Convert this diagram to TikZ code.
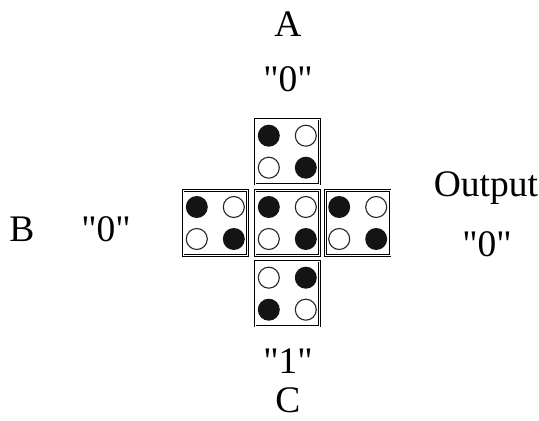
\documentclass[tikz,border=0pt]{standalone}
\usepackage{fontspec}
\setmainfont{Liberation Serif}[Ligatures=TeXOff]
\begin{document}
\begin{tikzpicture}[x=1pt,y=1pt,
  cell/.style={draw, double, line width=0.7pt, double distance=0.9pt,
    minimum width=64.5pt, minimum height=65pt, inner sep=0pt, outer sep=0pt},
  dfull/.style={circle, fill=black!92, minimum size=22pt, inner sep=0pt},
  dopen/.style={circle, draw=black!85, line width=1.1pt, fill=white, minimum size=21pt, inner sep=0pt},
  lab/.style={anchor=base, inner sep=0pt, font=\fontsize{37.5}{40}\selectfont}]
\useasboundingbox (0,0) rectangle (539,421);
\foreach \n/\x/\y/\s/\t in {top/287.3/269.3/dfull/dopen, left/215.3/198/dfull/dopen,
    mid/287.3/198/dfull/dopen, right/357.7/198/dfull/dopen, bot/287.3/127.3/dopen/dfull} {
  \node[cell] (\n) at (\x,\y) {};
  \node[\s] (\n-tl) at (\x-18.5,\y+16) {};
  \node[\t] (\n-tr) at (\x+18.5,\y+16) {};
  \node[\t] (\n-bl) at (\x-18.5,\y-16) {};
  \node[\s] (\n-br) at (\x+18.5,\y-16) {};
}
\node[lab] (A) at (288,384) {A};
\node[lab] (Av) at (288,329) {"0"};
\node[lab] (B) at (22,179) {B};
\node[lab] (Bv) at (106,179) {"0"};
\node[lab] (out) at (486,224) {Output};
\node[lab] (outv) at (487,164) {"0"};
\node[lab] (Cv) at (288,47) {"1"};
\node[lab] (C) at (288,8.5) {C};
\end{tikzpicture}
\end{document}
